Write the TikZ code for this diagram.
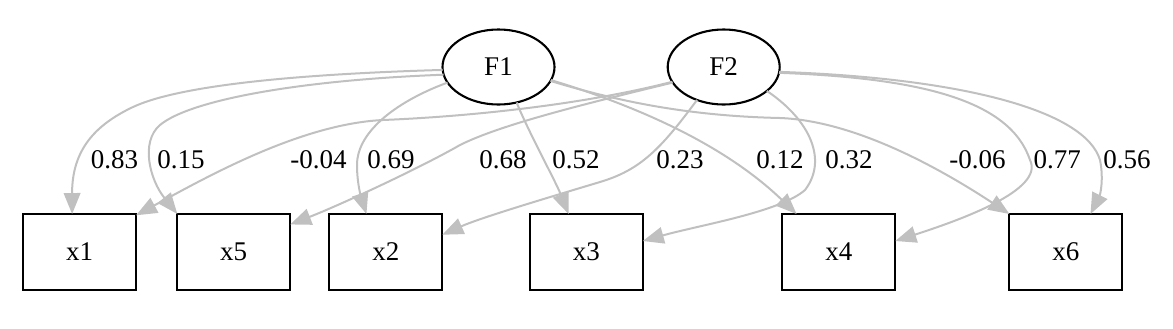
\documentclass[tikz,border=0pt]{standalone}
\usepackage{fontspec}
\setmainfont{Liberation Serif}
\usetikzlibrary{shapes.geometric,arrows.meta}
\definecolor{edgegray}{HTML}{C0C0C0}
\begin{document}
\begin{tikzpicture}[x=0.5pt,y=-0.5pt,
  latent/.style={ellipse,draw,line width=1.05pt,minimum width=56pt,minimum height=37.5pt,inner sep=0pt,outer sep=0pt,font=\fontsize{13.5}{15}\selectfont},
  observed/.style={rectangle,draw,line width=1.05pt,minimum width=56.5pt,minimum height=38pt,inner sep=0pt,outer sep=0pt,font=\fontsize{13.5}{15}\selectfont},
  load/.style={draw=edgegray,line width=1pt,-{Triangle[length=10.5pt,width=8.3pt]}},
  lbl/.style={anchor=base,inner sep=0pt,font=\fontsize{13.5}{15}\selectfont}]
\useasboundingbox (0,0) rectangle (1173,328);
% nodes
\node[latent] (F1) at (498.5,67) {F1};
\node[latent] (F2) at (723.7,67) {F2};
\node[observed] (x1) at (79.5,252) {x1};
\node[observed] (x5) at (233.7,252) {x5};
\node[observed] (x2) at (385.8,252) {x2};
\node[observed] (x3) at (586.3,252) {x3};
\node[observed] (x4) at (838.8,252) {x4};
\node[observed] (x6) at (1065.8,252) {x6};
% loadings of F1
\draw[load] (F1.183) .. controls (300,74) and (180,85) .. (133,107) .. controls (95,125) and (72,150) .. (x1.101);
\draw[load] (F1.188) .. controls (300,80) and (190,100) .. (160,125) .. controls (140,142) and (150,180) .. (x5.146);
\draw[load] (F1.197) .. controls (400,100) and (357,130) .. (357,165) .. controls (357,185) and (362,200) .. (x2.117);
\draw[load] (F1.297) .. controls (530,135) and (555,180) .. (x3.115);
\draw[load] (F1.346) .. controls (650,110) and (730,150) .. (x4.138);
\draw[load] (F1.345) .. controls (620,102) and (690,116) .. (780,118) .. controls (860,121) and (950,175) .. (x6.146);
% loadings of F2
\draw[load] (F2.196) .. controls (590,103) and (480,116) .. (383,120) .. controls (300,124) and (205,178) .. (x1.33);
\draw[load] (F2.197) .. controls (580,105) and (500,125) .. (460,145) .. controls (420,168) and (340,205) .. (x5.26);
\draw[load] (F2.231) .. controls (660,150) and (640,170) .. (600,182) .. controls (540,200) and (480,218) .. (x2.17);
\draw[load] (F2.331) .. controls (810,120) and (828,160) .. (805,190) .. controls (780,212) and (700,225) .. (x3.11);
\draw[load] (F2.354) .. controls (920,78) and (1010,100) .. (1030,160) .. controls (1045,190) and (960,220) .. (x4.11);
\draw[load] (F2.355) .. controls (960,78) and (1085,110) .. (1100,160) .. controls (1104,180) and (1100,195) .. (x6.57);
% labels
\node[lbl] (l1) at (114.5,168) {0.83};
\node[lbl] (l2) at (181,168) {0.15};
\node[lbl] (l3) at (318.5,168) {-0.04};
\node[lbl] (l4) at (391,168) {0.69};
\node[lbl] (l5) at (503,168) {0.68};
\node[lbl] (l6) at (576,168) {0.52};
\node[lbl] (l7) at (680,168) {0.23};
\node[lbl] (l8) at (780,168) {0.12};
\node[lbl] (l9) at (849,168) {0.32};
\node[lbl] (l10) at (977.5,168) {-0.06};
\node[lbl] (l11) at (1057.3,168) {0.77};
\node[lbl] (l12) at (1127,168) {0.56};
\end{tikzpicture}
\end{document}
